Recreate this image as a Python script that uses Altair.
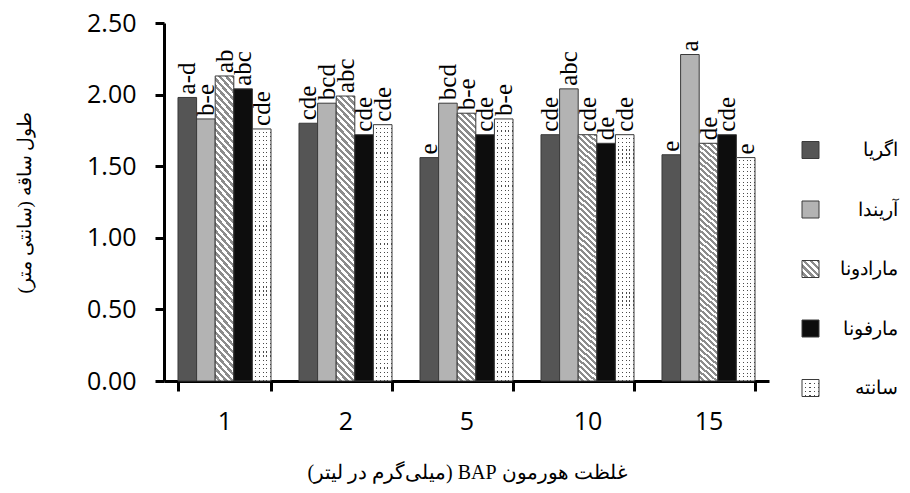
import altair as alt
import pandas as pd

# ---------------- data ----------------
concentrations = ["1", "2", "5", "10", "15"]
cultivars = ["اگریا", "آریندا", "مارادونا", "مارفونا", "سانته"]

agria = [1.98, 1.80, 1.56, 1.72, 1.58]
arinda = [1.83, 1.94, 1.94, 2.04, 2.28]
maradona = [2.13, 1.99, 1.87, 1.72, 1.66]
marfona = [2.04, 1.72, 1.72, 1.66, 1.72]
sante = [1.76, 1.79, 1.83, 1.72, 1.56]

letters_agria = ["a-d", "cde", "e", "cde", "e"]
letters_arinda = ["b-e", "bcd", "bcd", "abc", "a"]
letters_maradona = ["ab", "abc", "b-e", "cde", "de"]
letters_marfona = ["abc", "cde", "cde", "de", "cde"]
letters_sante = ["cde", "cde", "b-e", "cde", "e"]

y_ticks = [0, 0.5, 1.0, 1.5, 2.0, 2.5]

RLE, PDF = "\u202B", "\u202C"
x_title = RLE + "غلظت هورمون BAP (میلی\u200cگرم در لیتر)" + PDF
y_title = RLE + "طول ساقه (سانتی متر)" + PDF

series = [agria, arinda, maradona, marfona, sante]
letters = [letters_agria, letters_arinda, letters_maradona, letters_marfona, letters_sante]

rows = []
for name, vals, labs in zip(cultivars, series, letters):
    for c, v, l in zip(concentrations, vals, labs):
        rows.append({"conc": c, "cultivar": name, "value": v, "letter": l})
df = pd.DataFrame(rows)
legend_df = pd.DataFrame({"cultivar": cultivars})


# ---------------- pattern helpers (gradients used as fills) ----------------
def stripes(n, frac, c1, c2, x1, y1, x2, y2):
    stops = []
    for i in range(n):
        a = i / n
        b = (i + frac) / n
        e = (i + 1) / n
        stops += [
            {"offset": a, "color": c1},
            {"offset": b, "color": c1},
            {"offset": b, "color": c2},
            {"offset": e, "color": c2},
        ]
    return {"gradient": "linear", "x1": x1, "y1": y1, "x2": x2, "y2": y2, "stops": stops}


def hatch(aspect, n):
    a = 1.0 / aspect
    s = (1 + a) / (1 + a * a)
    return stripes(n, 0.5, "#8c8c8c", "#ffffff", 1, 0, 1 - a * s, s)


CLEAR = "rgba(255,255,255,0)"
hatch_bar = hatch(14.5, 45)
hatch_sq = hatch(1.0, 5)
vdots_bar = stripes(5, 0.72, "#ffffff", CLEAR, 0, 0, 1, 0)
hdots_bar = stripes(62, 0.72, "#ffffff", CLEAR, 0, 0, 0, 1)
vdots_sq = stripes(4, 0.72, "#ffffff", CLEAR, 0, 0, 1, 0)
hdots_sq = stripes(4, 0.72, "#ffffff", CLEAR, 0, 0, 0, 1)

EDGE = "#3a3a3a"

# ---------------- bars ----------------
x_enc = alt.X(
    "conc:N",
    sort=concentrations,
    scale=alt.Scale(domain=concentrations, paddingInner=0.2314, paddingOuter=0.1157),
    axis=alt.Axis(
        title=x_title,
        labelAngle=0,
        tickBand="extent",
        labelFont="Open Sans",
        labelFontSize=25,
        labelColor="black",
        labelPadding=18,
        tickSize=10,
        tickWidth=3,
        tickColor="black",
        domainWidth=3,
        domainColor="black",
        titleFont="Liberation Serif",
        titleFontSize=20,
        titleFontWeight="normal",
        titleColor="black",
        titleBaseline="alphabetic",
        titleY=97,
        grid=False,
    ),
)
xo_enc = alt.XOffset(
    "cultivar:N",
    sort=cultivars,
    scale=alt.Scale(domain=cultivars, paddingInner=0, paddingOuter=0),
)
y_enc = alt.Y(
    "value:Q",
    scale=alt.Scale(domain=[0, 2.5], nice=False, zero=True),
    axis=alt.Axis(
        title=y_title,
        orient="left",
        values=y_ticks,
        format=".2f",
        labelFont="Open Sans",
        labelFontSize=25,
        labelColor="black",
        labelPadding=19,
        tickSize=9,
        tickWidth=3,
        tickColor="black",
        domainWidth=3,
        domainColor="black",
        titleFont="Liberation Serif",
        titleFontSize=19,
        titleFontWeight="normal",
        titleColor="black",
        titleAngle=270,
        titleBaseline="middle",
        titleX=-140,
        titleY=179,
        grid=False,
    ),
)

base = alt.Chart(df).encode(x=x_enc, xOffset=xo_enc, y=y_enc)


def only(name):
    return base.transform_filter(alt.datum.cultivar == name)


bar_layers = [
    only(cultivars[0]).mark_bar(fill="#555555", stroke=EDGE, strokeWidth=1),
    only(cultivars[1]).mark_bar(fill="#b3b3b3", stroke=EDGE, strokeWidth=1),
    only(cultivars[2]).mark_bar(fill=hatch_bar, stroke=EDGE, strokeWidth=1),
    only(cultivars[3]).mark_bar(fill="#0d0d0d", stroke=EDGE, strokeWidth=1),
    only(cultivars[4]).mark_bar(fill="#4a4a4a", strokeWidth=0),
    only(cultivars[4]).mark_bar(fill=vdots_bar, strokeWidth=0),
    only(cultivars[4]).mark_bar(fill=hdots_bar, strokeWidth=0),
    only(cultivars[4]).mark_bar(fill="#ffffff", fillOpacity=0, stroke=EDGE, strokeWidth=1),
]

labels = base.mark_text(
    angle=270,
    align="left",
    baseline="middle",
    dx=3,
    font="Liberation Serif",
    fontSize=25,
    color="black",
).encode(text="letter:N")

plot = alt.layer(*bar_layers, labels)

# ---------------- legend ----------------
leg_y = alt.Y(
    "cultivar:N",
    sort=cultivars,
    scale=alt.Scale(type="point", domain=cultivars, range=[127, 365], padding=0),
    axis=None,
)
leg_base = alt.Chart(legend_df).encode(x=alt.value(646.5), y=leg_y)


def lonly(name):
    return leg_base.transform_filter(alt.datum.cultivar == name)


SQ = 17 * 17
legend_layers = [
    lonly(cultivars[0]).mark_square(size=SQ, fill="#555555", stroke=EDGE, strokeWidth=1, opacity=1),
    lonly(cultivars[1]).mark_square(size=SQ, fill="#b3b3b3", stroke=EDGE, strokeWidth=1, opacity=1),
    lonly(cultivars[2]).mark_square(size=SQ, fill=hatch_sq, stroke=EDGE, strokeWidth=1, opacity=1),
    lonly(cultivars[3]).mark_square(size=SQ, fill="#0d0d0d", stroke=EDGE, strokeWidth=1, opacity=1),
    lonly(cultivars[4]).mark_square(size=SQ, fill="#4a4a4a", strokeWidth=0, opacity=1),
    lonly(cultivars[4]).mark_square(size=SQ, fill=vdots_sq, strokeWidth=0, opacity=1),
    lonly(cultivars[4]).mark_square(size=SQ, fill=hdots_sq, strokeWidth=0, opacity=1),
    lonly(cultivars[4]).mark_square(size=SQ, fill="#ffffff", fillOpacity=0, stroke=EDGE, strokeWidth=1, opacity=1),
    leg_base.mark_text(
        align="right", baseline="middle", font="Liberation Serif", fontSize=19, color="black"
    ).encode(x=alt.value(734), text="cultivar:N"),
]
legend = alt.layer(*legend_layers)

chart = (
    alt.layer(plot, legend)
    .resolve_scale(y="independent")
    .properties(
        width=605,
        height=358,
        autosize=alt.AutoSizeParams(type="none"),
        padding={"left": 156, "top": 15, "right": 133, "bottom": 104},
        background="white",
    )
    .configure_view(strokeWidth=0)
)

chart.save("out.html", embed_options={"renderer": "svg", "actions": False})
